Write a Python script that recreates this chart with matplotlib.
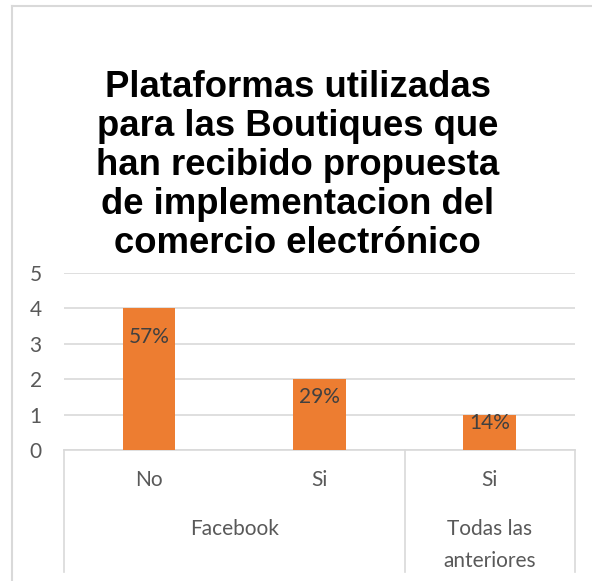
import matplotlib.pyplot as plt
import matplotlib.transforms as mtransforms
from matplotlib.lines import Line2D

# Data
sub_labels = ['No', 'Si', 'Si']
group_labels = ['Facebook', 'Todas las\nanteriores']
group_sizes = [2, 1]
counts = [4, 2, 1]
pct_labels = ['57%', '29%', '14%']

title = ('Plataformas utilizadas\npara las Boutiques que\nhan recibido propuesta\n'
         'de implementacion del\ncomercio electrónico')

bar_color = '#ED7D31'
grid_color = '#D9D9D9'
text_color = '#595959'
label_font = 'Lato'
label_size = 15

fig = plt.figure(figsize=(5.92, 5.81), dpi=100)
ax = fig.add_axes([0.108, 0.2255, 0.863, 0.3046])

x = list(range(len(counts)))
ax.bar(x, counts, width=0.31, color=bar_color, zorder=3)

ax.set_xlim(-0.5, len(counts) - 0.5)
ax.set_ylim(0, 5)
ax.set_yticks(range(0, 6))
ax.set_yticklabels([str(v) for v in range(0, 6)], fontsize=label_size,
                   color=text_color, family=label_font)
ax.tick_params(axis='y', length=0, pad=16)
ax.set_xticks([])
ax.yaxis.grid(True, color=grid_color, linewidth=1.2, zorder=0)
for s in ['top', 'right', 'left']:
    ax.spines[s].set_visible(False)
ax.spines['bottom'].set_color(grid_color)
ax.spines['bottom'].set_linewidth(1.2)

# data labels inside the bars
for xi, v, lab in zip(x, counts, pct_labels):
    ax.text(xi, max(v - 0.8, v * 0.75), lab, ha='center', va='center',
            fontsize=label_size, color='#404040', family=label_font, zorder=4)

# multi-level category axis
trans = mtransforms.blended_transform_factory(ax.transData, ax.transAxes)
for xi, lab in zip(x, sub_labels):
    ax.text(xi, -0.17, lab, transform=trans, ha='center', va='center',
            fontsize=label_size, color=text_color, family=label_font)

start = 0
bounds = [-0.5]
for lab, n in zip(group_labels, group_sizes):
    mid = start + (n - 1) / 2
    ax.text(mid, -0.537 if '\n' in lab else -0.445, lab, transform=trans,
            ha='center', va='center', fontsize=label_size, color=text_color,
            family=label_font, linespacing=1.75)
    start += n
    bounds.append(start - 0.5)

for b in bounds:
    ax.add_line(Line2D([b, b], [0, -0.69], transform=trans, color=grid_color,
                       linewidth=1.2, clip_on=False))

# title
fig.text(0.503, 0.715, title, ha='center', va='center', fontsize=26.3,
         fontweight='bold', family='Liberation Sans', color='black',
         linespacing=1.15)

# chart area border (partly cropped in the reference)
fig.add_artist(Line2D([0.0203, 0.0203], [0.0, 0.9897], color=grid_color,
                      linewidth=1.5, transform=fig.transFigure))
fig.add_artist(Line2D([0.0203, 1.0], [0.9897, 0.9897], color=grid_color,
                      linewidth=1.5, transform=fig.transFigure))

fig.savefig('out.png', dpi=100)
